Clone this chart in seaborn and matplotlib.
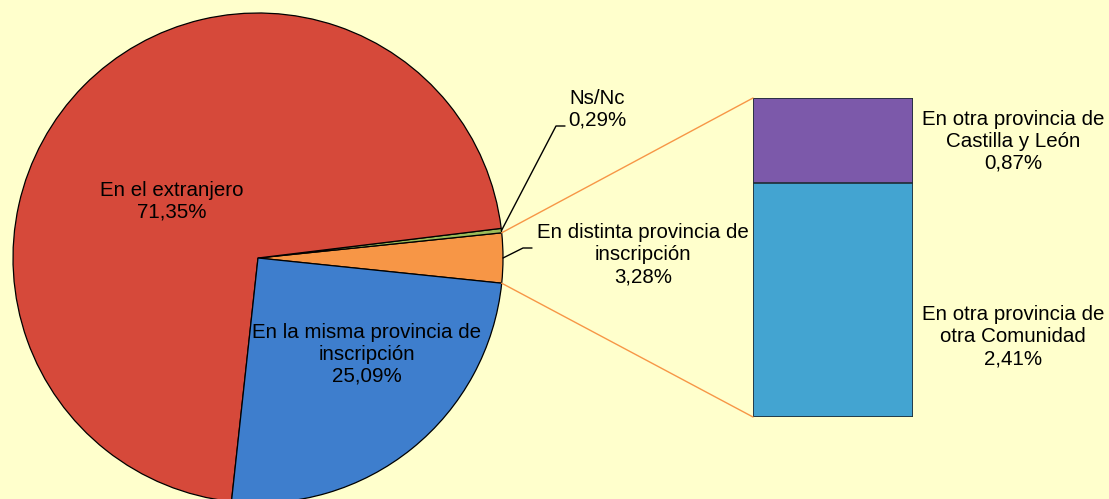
import matplotlib.pyplot as plt
import numpy as np
import seaborn as sns
from matplotlib.patches import ConnectionPatch

# pie data (order drawn counter-clockwise starting right)
pie_labels = ["En distinta provincia de\ninscripción", "Ns/Nc", "En el extranjero",
              "En la misma provincia de\ninscripción"]
pie_values = [3.28, 0.29, 71.35, 25.09]
pie_colors = ["#F79646", "#9BBB59", "#D6493A", "#3E7ECD"]

# bar breakdown of "En distinta provincia de inscripción"
bar_labels = ["En otra provincia de\notra Comunidad", "En otra provincia de\nCastilla y León"]
bar_values = [2.41, 0.87]
bar_colors = ["#43A4D1", "#7C59AA"]

BG = "#FFFFCC"
W, H = 1109, 499

sns.set_theme(style="white")
plt.rcParams["font.family"] = ["Liberation Sans", "DejaVu Sans"]

fig = plt.figure(figsize=(W / 100, H / 100), dpi=100, facecolor=BG)
ax = fig.add_axes([0, 0, 1, 1])
ax.set_facecolor(BG)

cx, cy, R = 258, H - 258, 245
start = -pie_values[0] / sum(pie_values) * 360 / 2
wedges, _ = ax.pie(pie_values, colors=pie_colors, startangle=start, counterclock=True,
                   center=(cx, cy), radius=R, frame=True,
                   wedgeprops=dict(edgecolor="black", linewidth=0.9))
ax.set_xlim(0, W)
ax.set_ylim(0, H)
ax.axis("off")

fs = 14.8
def txt(x, y, s):
    ax.text(x, H - y, s, ha="center", va="center", fontsize=fs, color="black", linespacing=1.2)

pct = lambda v: f"{v:.2f}%".replace(".", ",")

txt(172, 201, f"{pie_labels[2]}\n{pct(pie_values[2])}")
txt(367, 354, f"{pie_labels[3]}\n{pct(pie_values[3])}")
txt(597, 109, f"{pie_labels[1]}\n{pct(pie_values[1])}")
txt(643, 255, f"{pie_labels[0]}\n{pct(pie_values[0])}")

# leader lines
def edge_point(w):
    a = np.deg2rad((w.theta1 + w.theta2) / 2)
    return cx + R * np.cos(a), cy + R * np.sin(a)

px, py = edge_point(wedges[1])
ax.plot([px, 556, 565], [py, H - 126, H - 126], color="black", lw=1)
px, py = edge_point(wedges[0])
ax.plot([px, 523, 532], [py, H - 248, H - 248], color="black", lw=1)

# stacked bar
bx0, bx1, by0, by1 = 753, 913, 417, 98
ax2 = fig.add_axes([bx0 / W, (H - by0) / H, (bx1 - bx0) / W, (by0 - by1) / H])
total = sum(bar_values)
sns.barplot(x=[0], y=[total], color=bar_colors[1], width=1, saturation=1,
            edgecolor="#1E2B33", linewidth=1.2, ax=ax2)
sns.barplot(x=[0], y=[bar_values[0]], color=bar_colors[0], width=1, saturation=1,
            edgecolor="#1E2B33", linewidth=1.2, ax=ax2)
ax2.set_xlim(-0.5, 0.5)
ax2.set_ylim(0, total)
ax2.axis("off")

txt(1013, 141, f"{bar_labels[1]}\n{pct(bar_values[1])}")
txt(1013, 337, f"{bar_labels[0]}\n{pct(bar_values[0])}")

# connectors from orange wedge to bar
w = wedges[0]
for ang, yb in [(w.theta2, total), (w.theta1, 0)]:
    a = np.deg2rad(ang)
    con = ConnectionPatch(xyA=(cx + R * np.cos(a), cy + R * np.sin(a)), coordsA=ax.transData,
                          xyB=(-0.5, yb), coordsB=ax2.transData, color="#F79646", lw=1)
    fig.add_artist(con)

fig.savefig("out.png", dpi=100, facecolor=BG)
